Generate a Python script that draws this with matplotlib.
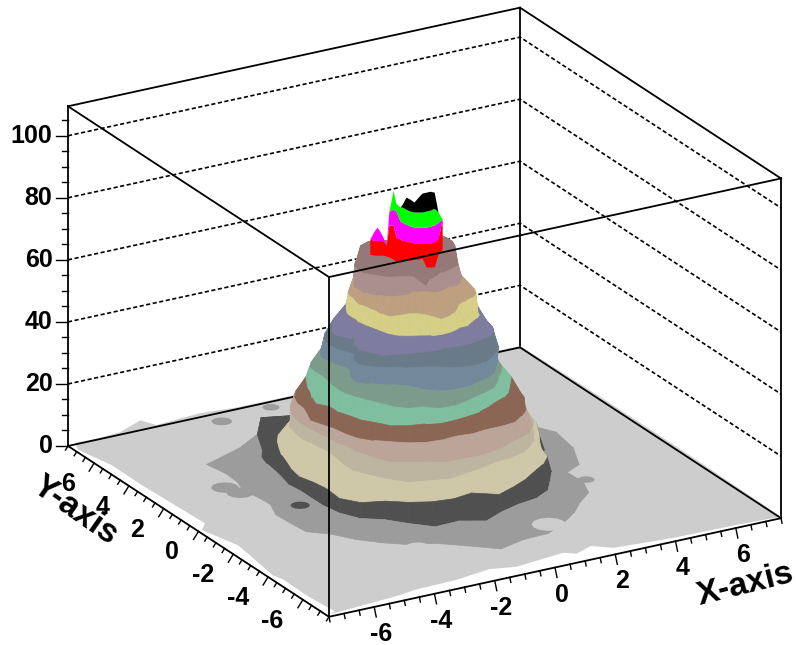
import numpy as np
import matplotlib
matplotlib.use('Agg')
import matplotlib.pyplot as plt
from matplotlib.colors import to_rgba
from mpl_toolkits.mplot3d import proj3d
from mpl_toolkits.mplot3d.art3d import Poly3DCollection

plt.rcParams['font.family'] = ['Liberation Sans', 'DejaVu Sans']

# axis ranges
x_lim = (-7.5, 7.5)
y_lim = (-7.5, 7.5)
z_lim = (0, 109.5)
x_ticks = [-6, -4, -2, 0, 2, 4, 6]
y_ticks = [-6, -4, -2, 0, 2, 4, 6]
z_ticks = [0, 20, 40, 60, 80, 100]

# centre of the peak in the xy plane
peak_x = -0.28
peak_y = 0.43

# contour radii, one list per colour level
contour_angle = [330, 322.5, 315, 307.5, 300, 292.5, 285, 277.5, 270, 262.5, 255, 247.5, 240,
                 232.5, 225, 217.5, 210, 202.5, 195, 187.5, 180, 172.5, 165, 157.5, 150,
                 135, 120, 105, 90, 75, 60, 45, 30, 15, 0, 345]
contour_z = [4.7, 9.4, 14.1, 18.8, 23.5, 28.2, 32.9, 37.6, 42.3, 47.0, 51.7,
             56.4, 61.1, 65.8, 70.5, 75.2]
r1 = [4.9, 4.6, 5.2, 5.6, 5.7, 6.0, 6.3, 6.6, 6.6, 6.95, 6.4, 6.05, 6.1, 6.0, 5.9, 5.75, 5.9, 5.6, 5.4, 5.0, 5.0, 5.15, 5.1, 5.3, 5.8,
      5.0, 4.6, 4.4, 4.3, 4.2, 4.2, 4.2, 4.3, 4.5, 4.9, 4.9]
r2 = [3.9, 3.85, 4.1, 4.45, 4.7, 5.05, 5.2, 5.2, 5.4, 5.85, 5.6, 5.9, 5.6, 5.35, 5.4, 5.2, 4.9, 4.6, 4.4, 4.35, 4.2, 4.15, 4.2, 4.25, 4.2,
      4.5, 4.9, 3.6, 3.4, 3.3, 3.3, 3.3, 3.3, 3.3, 3.3, 3.6]
r3 = [3.75, 3.8, 3.95, 4.3, 4.45, 4.55, 4.75, 4.95, 5.2, 4.75, 5.0, 5.1, 5.1, 5.05, 5.3, 5.2, 4.7, 4.5, 4.45, 4.25, 4.05, 3.95, 3.85, 3.8, 3.75,
      3.4, 3.2, 3.2, 3.2, 3.2, 3.2, 3.2, 3.2, 3.3, 3.5, 3.8]
r4 = [3.6, 3.6, 3.7, 3.9, 4.0, 4.1, 4.1, 4.05, 4.2, 4.35, 4.6, 4.6, 4.7, 4.5, 4.3, 4.15, 3.8, 3.5, 3.3, 3.3, 3.3, 3.35, 3.4, 3.45, 3.4,
      3.1, 3.0, 3.0, 3.0, 3.0, 3.0, 3.0, 3.0, 3.0, 3.2, 3.4]
r5 = [3.3, 3.4, 3.6, 3.85, 4.0, 4.0, 4.05, 4.2, 4.3, 4.3, 4.4, 4.3, 4.25, 4.3, 4.05, 3.8, 3.5, 3.45, 3.3, 3.3, 3.3, 3.35, 3.4, 3.4, 3.4,
      3.0, 2.8, 2.8, 2.8, 2.8, 2.8, 2.8, 2.8, 2.8, 2.9, 3.1]
r6 = [3.2, 3.35, 3.45, 3.65, 3.75, 3.85, 3.75, 3.65, 3.7, 3.65, 3.8, 3.9, 3.9, 3.85, 3.85, 3.8, 3.65, 3.5, 3.5, 3.55, 3.35, 3.25, 3.3, 3.3, 3.25,
      2.9, 2.6, 2.6, 2.6, 2.6, 2.6, 2.6, 2.6, 2.6, 2.8, 3.0]
r7 = [2.95, 2.95, 3.0, 3.1, 3.15, 3.15, 3.25, 3.35, 3.4, 3.5, 3.6, 3.6, 3.7, 3.75, 3.6, 3.55, 3.4, 3.35, 3.2, 3.35, 3.2, 3.05, 3.0, 2.95, 2.95,
      2.7, 2.4, 2.4, 2.4, 2.4, 2.4, 2.4, 2.4, 2.4, 2.6, 2.8]
r8 = [2.6, 2.7, 2.75, 2.8, 2.95, 3.1, 3.15, 3.2, 3.35, 3.5, 3.55, 3.4, 3.5, 3.4, 3.2, 3.1, 3.05, 3.0, 2.9, 2.8, 2.7, 2.65, 2.75, 2.85, 2.8,
      2.5, 2.2, 2.2, 2.2, 2.2, 2.2, 2.2, 2.2, 2.2, 2.3, 2.5]
r9 = [2.4, 2.45, 2.6, 2.75, 2.9, 3.1, 3.2, 3.25, 3.4, 3.45, 3.4, 3.2, 2.9, 2.85, 2.9, 2.95, 3.0, 2.75, 2.4, 2.35, 2.4, 2.5, 2.6, 2.55, 2.5,
      2.3, 2.0, 2.0, 2.0, 2.0, 2.0, 2.0, 2.0, 2.0, 2.1, 2.3]
r10 = [2.4, 2.45, 2.6, 2.8, 2.9, 3.0, 3.1, 3.1, 3.0, 2.8, 2.65, 2.6, 2.6, 2.55, 2.65, 2.7, 2.75, 2.55, 2.2, 2.25, 2.35, 2.4, 2.45, 2.45, 2.4,
       2.2, 1.9, 1.9, 1.9, 1.9, 1.9, 1.9, 1.9, 1.9, 2.0, 2.2]
r11 = [2.2, 2.3, 2.5, 2.65, 2.7, 2.65, 2.65, 2.6, 2.55, 2.5, 2.55, 2.6, 2.65, 2.75, 2.9, 2.85, 2.8, 2.55, 2.2, 2.3, 2.45, 2.4, 2.25, 2.2, 2.15,
       2.0, 1.75, 1.75, 1.75, 1.75, 1.75, 1.75, 1.75, 1.75, 1.9, 2.1]
r12 = [1.95, 2.0, 2.05, 2.2, 2.25, 2.3, 2.4, 2.35, 2.45, 2.5, 2.5, 2.45, 2.45, 2.45, 2.35, 2.2, 2.1, 2.05, 2.0, 1.9, 1.9, 1.9, 1.85, 1.8, 1.8,
       1.75, 1.5, 1.5, 1.5, 1.5, 1.5, 1.5, 1.5, 1.5, 1.7, 1.85]
r13 = [1.9, 1.95, 1.95, 1.85, 1.85, 1.85, 2.0, 2.2, 2.35, 2.45, 2.0, 1.85, 1.85, 2.0, 2.15, 2.0, 1.85, 1.8, 1.75, 1.8, 1.75, 1.7, 1.75, 1.75, 1.7,
       1.6, 1.3, 1.3, 1.3, 1.3, 1.3, 1.3, 1.3, 1.3, 1.5, 1.75]
r14 = [1.5, 1.55, 1.55, 1.6, 1.6, 1.5, 1.5, 1.55, 1.55, 1.4, 1.3, 1.25, 1.5, 1.6, 1.7, 1.75, 1.8, 1.8, 1.85, 1.8, 1.8, 1.7, 1.6, 1.6, 1.55,
       1.4, 1.15, 1.15, 1.15, 1.15, 1.15, 1.15, 1.15, 1.15, 1.3, 1.45]
r15 = [1.4, 1.4, 1.45, 1.4, 1.35, 1.35, 1.32, 1.4, 1.5, 1.6, 2.0, 1.3, 1.25, 1.25, 1.3, 1.4, 1.45, 1.45, 1.55, 1.6, 1.6, 1.6, 1.6, 1.55, 1.5,
       1.3, 1.0, 1.0, 1.0, 1.0, 1.0, 1.0, 1.0, 1.1, 1.25, 1.35]
r16 = [1.33, 1.3, 1.25, 1.15, 1.1, 1.05, 1.0, 0.95, 0.95, 0.9, 0.9, 0.9, 0.9, 0.95, 0.95, 0.95, 1.0, 1.05, 1.1, 1.15, 1.2, 1.25, 1.3, 1.35, 1.38,
       1.2, 0.8, 0.5, 0.4, 0.4, 0.4, 0.4, 0.6, 1.2, 1.25, 1.3]
band_colors = ['#9c9c9c', '#505050', '#cfc8a8', '#bdb5a0', '#bba498', '#8b6655',
               '#7fbfa0', '#7d9b8b', '#71899a', '#6b7a88', '#7f7d9f', '#d5cf88',
               '#bca07f', '#ab8f8f', '#957878', '#957878']

# jagged top of the peak, heights of each colour along a line through the centre
top_pos = [-1.10, -0.98, -0.89, -0.81, -0.72, -0.63, -0.55, -0.43, -0.35, -0.23, -0.17,
           -0.06, 0.06, 0.17, 0.29, 0.40, 0.52, 0.63, 0.75, 0.86, 0.98]
top_base = [72.3, 72.0, 72.0, 72.0, 72.0, 71.7, 71.4, 70.7, 70.1, 69.8, 70.1,
            70.4, 70.4, 70.7, 70.7, 71.1, 68.2, 68.2, 68.2, 72.3, 74.0]
top_red = [77.2, 76.8, 76.8, 76.8, 76.5, 75.2, 81.7, 81.7, 77.8, 77.2, 76.8,
           76.5, 76.2, 75.9, 75.9, 75.9, 75.9, 75.9, 76.2, 77.2, 83.6]
top_magenta = [77.2, 79.7, 81.0, 79.7, 77.8, 75.2, 86.2, 86.8, 86.2, 83.0, 82.6,
               82.0, 81.4, 81.0, 81.0, 81.0, 81.0, 81.4, 81.7, 82.6, 83.6]
top_green = [77.2, 79.7, 81.0, 79.7, 77.8, 75.2, 86.2, 92.9, 88.7, 87.5, 87.5,
             86.8, 86.2, 85.9, 85.9, 85.9, 86.2, 86.5, 87.1, 85.9, 83.6]
top_black = [77.2, 79.7, 81.0, 79.7, 77.8, 75.2, 86.2, 92.9, 88.7, 87.5, 88.4,
             90.7, 90.0, 89.1, 90.7, 92.0, 92.3, 92.6, 92.3, 85.9, 83.6]
top_colors = ['#ff0000', '#ff00ff', '#00ff00', '#000000']

# outline of the low grey floor, going round the plot
floor_x = [-7.45, -7.2, -7.21, -7.09, -7.42, -7.1, -7.38, -7.28, -7.3, -7.2, -7.45,
           -5.0, -4.41, -3.0, -1.75, -1.0, 0.71, 1.0, 1.65, 2.14, 4.0, 6.0, 7.5,
           7.5, 7.5, 7.5, 3.0, -0.7, -2.0, -3.1, -4.54, -5.1, -5.77, -6.54, -7.3]
floor_y = [7.0, 5.5, 3.78, 0.34, -0.06, -1.6, -4.07, -4.47, -6.0, -7.33, -7.45,
           -7.2, -7.06, -7.0, -6.77, -7.0, -6.75, -7.0, -6.7, -7.15, -7.35, -7.4, -7.5,
           -2.0, 3.0, 7.5, 7.5, 7.5, 7.5, 7.5, 7.55, 7.5, 7.5, 7.5, 7.45]
floor_z = [0.5, 0.5, 0.5, 0.5, 0.5, 0.5, 0.5, 0.5, 0.5, 0.5, 0.5,
           0.5, 0.5, 0.5, 0.5, 0.5, 0.5, 0.5, 0.5, 0.5, 0.5, 0.5, 0.5,
           1.0, 1.0, 0.5, 0.5, 0.5, 0.6, 1.3, 0.3, 3.2, 0.8, 0.3, 0.8]

# small patches on the floor and on the lowest bands
blob_x = [-2.83, -5.27, -5.09, -1.07, 4.02, -4.8, 0.84, -3.28]
blob_y = [6.75, 2.34, 1.78, 6.97, -2.32, -1.17, -5.69, -5.3]
blob_z = [0.8, 0.8, 0.8, 0.8, 0.8, 7.0, 5.5, 5.5]
blob_r = [0.3, 0.4, 0.4, 0.25, 0.25, 0.28, 0.5, 0.35]
blob_color = ['#9c9c9c', '#9c9c9c', '#9c9c9c', '#9c9c9c', '#9c9c9c', '#505050', '#cdcdcd', '#cdcdcd']

fig = plt.figure(figsize=(7.96, 6.45), dpi=100)
ax = fig.add_axes([0, 0, 1, 1], projection='3d', proj_type='ortho', computed_zorder=False)
ax.view_init(elev=22.2, azim=-120, roll=0)
ax.set_box_aspect((1, 1, 0.703))
ax.set_xlim(x_lim)
ax.set_ylim(y_lim)
ax.set_zlim(z_lim)
ax.set_autoscale_on(False)
ax.set_axis_off()

x0, x1 = x_lim
y0, y1 = y_lim
ztop = z_lim[1]


def line3d(xs, ys, zs, z=6, **kw):
    style = dict(color='black', lw=1.3, zorder=z)
    style.update(kw)
    ax.plot(xs, ys, zs, **style)


# back walls and dashed grid
line3d([x0, x0], [y1, y1], [0, ztop], z=1)
line3d([x1, x1], [y1, y1], [0, ztop], z=1)
line3d([x1, x1], [y0, y0], [0, ztop], z=1)
line3d([x0, x1], [y1, y1], [ztop, ztop], z=1)
line3d([x1, x1], [y1, y0], [ztop, ztop], z=1)
line3d([x0, x1], [y1, y1], [0, 0], z=2.2)
line3d([x1, x1], [y1, y0], [0, 0], z=2.2)
for zt in z_ticks[1:]:
    line3d([x0, x1, x1], [y1, y1, y0], [zt, zt, zt], z=1, lw=1.2, ls=(0, (2.5, 1.5)))

# floor
floor = Poly3DCollection([list(zip(floor_x, floor_y, floor_z))], facecolors='#cdcdcd',
                         edgecolors='none', zorder=2)
ax.add_collection3d(floor, autolim=False)

# patches under the mesh
t = np.radians(np.arange(0, 360, 30))
for bx, by, bz, br, bc in zip(blob_x, blob_y, blob_z, blob_r, blob_color):
    verts = list(zip(bx + br * np.cos(t), by + br * np.sin(t), np.full(t.size, bz)))
    blob = Poly3DCollection([verts], facecolors=bc, edgecolors='none', zorder=2.5 if bz < 1 else 4)
    ax.add_collection3d(blob, autolim=False)

# contour bands as one polar mesh
radii = np.array([r1, r2, r3, r4, r5, r6, r7, r8, r9, r10, r11, r12, r13, r14, r15, r16])
radii = np.vstack([radii, np.zeros(radii.shape[1])])
radii = np.hstack([radii, radii[:, :1]])
angle = np.radians(np.array(contour_angle + contour_angle[:1]))
X = peak_x + radii * np.cos(angle)
Y = peak_y + radii * np.sin(angle)
Z = np.tile(np.array(contour_z + contour_z[-1:])[:, None], (1, angle.size))
rows = np.array([to_rgba(c) for c in band_colors + band_colors[-1:]])
face = np.repeat(rows[:, None, :], angle.size, axis=1)
ax.plot_surface(X, Y, Z, facecolors=face, rstride=1, cstride=1, shade=False,
                linewidth=0.5, antialiased=True, zorder=3)

# top of the peak
pos = np.array(top_pos)
tx = peak_x + 0.866 * pos
ty = peak_y - 0.5 * pos
levels = [top_base, top_red, top_magenta, top_green, top_black]
for lo, hi, col in zip(levels[:-1], levels[1:], top_colors):
    verts = list(zip(tx, ty, hi)) + list(zip(tx[::-1], ty[::-1], lo[::-1]))
    ax.add_collection3d(Poly3DCollection([verts], facecolors=col, edgecolors='none', zorder=5),
                        autolim=False)

# front edges of the box
line3d([x0, x0], [y0, y0], [0, ztop])
line3d([x0, x1], [y0, y0], [0, 0])
line3d([x0, x0], [y0, y1], [0, 0])
line3d([x0, x1], [y0, y0], [ztop, ztop])
line3d([x0, x0], [y0, y1], [ztop, ztop])

# ticks, labels get placed once the box is fitted
labels = []
for v in np.arange(-7.5, 7.51, 0.5):
    f = 1.0 if v in x_ticks else 0.5
    line3d([v, v - 0.33 * f], [y0, y0 - 0.69 * f], [0, 0], lw=1.0)
for v in x_ticks:
    labels.append((v - 0.86, y0 - 1.88, 0, str(v), 'center'))
for v in np.arange(-7.5, 7.51, 0.5):
    f = 1.0 if v in y_ticks else 0.5
    line3d([x0, x0 - 0.43 * f], [v, v - 0.46 * f], [0, 0], lw=1.0)
for v in y_ticks:
    labels.append((x0 - 1.28, v - 1.11, 0, str(v), 'right'))
for v in np.arange(0, 106, 5):
    f = 0.35 if v in z_ticks else 0.17
    line3d([x0, x0 - 0.866 * f], [y1, y1 + 0.5 * f], [v, v], lw=1.0)
for v in z_ticks:
    labels.append((x0 - 0.39, y1 + 0.22, v, str(v), 'right'))

fig.text(745 / 796, 1 - 585 / 645, 'X-axis', rotation=14, ha='center', va='center',
         fontsize=24, fontweight='bold')
fig.text(75 / 796, 1 - 511 / 645, 'Y-axis', rotation=-35, ha='center', va='center',
         fontsize=24, fontweight='bold')


def corner_px(x, y, z):
    ax.apply_aspect()
    xs, ys, _ = proj3d.proj_transform(x, y, z, ax.get_proj())
    return ax.transData.transform((float(xs), float(ys)))


# fit the box onto the picture: left floor corner at (68,446), right one at (781,518)
side = 600.0
ax.set_position([0, 0, side / 796, side / 645])
span = corner_px(x1, y0, 0)[0] - corner_px(x0, y1, 0)[0]
side = side * 713 / span
ax.set_position([0, 0, side / 796, side / 645])
left = corner_px(x0, y1, 0)
ax.set_position([(68 - left[0]) / 796, (645 - 446 - left[1]) / 645, side / 796, side / 645])

for lx, ly, lz, s, ha in labels:
    px, py = corner_px(lx, ly, lz)
    fig.text(px / 796, py / 645, s, ha=ha, va='center', fontsize=18, fontweight='bold')

fig.savefig('out.png', dpi=100)
